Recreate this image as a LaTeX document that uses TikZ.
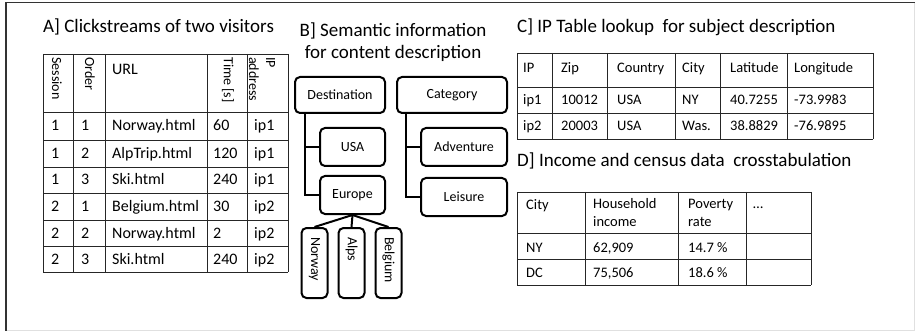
\documentclass[tikz,border=0pt]{standalone}
\usepackage{fontspec}
\setmainfont{Carlito}
\usetikzlibrary{positioning}

\begin{document}
\begin{tikzpicture}[
  x=1pt,y=-1pt,
  title/.style={inner sep=0pt,font=\fontsize{19}{22}\selectfont},
  cell/.style={anchor=base west,inner sep=0pt,font=\fontsize{14.5}{18}\selectfont},
  bigcell/.style={cell,font=\fontsize{16}{19}\selectfont},
  headrot/.style={anchor=west,inner sep=0pt,rotate=-90,align=left,
    font=\fontsize{14}{17}\selectfont},
  grid/.style={draw=black!85,line width=0.9pt},
  tbox/.style={draw,line width=2pt,rounded corners=5pt,inner sep=0pt,
    minimum height=38pt,font=\fontsize{14}{17}\selectfont},
  vbox/.style={tbox,rotate=-90,minimum height=26pt,text width=52pt,
    align=left,inner xsep=9pt},
  tree/.style={draw,line width=2pt}
]
\useasboundingbox (0,0) rectangle (915,331);
% frame
\draw[black!12,line width=1pt] (6,330) -- (914,330) -- (914,2.5);
\draw[black!80,line width=1.3pt] (6,331) -- (6,2.5) -- (915,2.5);

% A] clickstreams
\node[title,anchor=base west] (ttla) at (43,33) {A] Clickstreams of two visitors};
\foreach \x in {43,73,105,207,247,288} \draw[grid] (\x,54) -- (\x,272);
\foreach \y in {54,112,140,167,193,220,246,272} \draw[grid] (43,\y) -- (288,\y);
\node[headrot] (hsess) at (57,57) {Session};
\node[headrot] (hord) at (90,57) {Order};
\node[bigcell] (hurl) at (112,75) {URL};
\node[headrot] (htime) at (228,57) {Time [s]};
\node[headrot] (hip) at (262,57) {IP\\address};
\foreach \y/\s/\o/\u/\t/\i [count=\r] in {131/1/1/Norway.html/60/ip1,
    158.5/1/2/AlpTrip.html/120/ip1, 185/1/3/Ski.html/240/ip1,
    211.5/2/1/Belgium.html/30/ip2, 238/2/2/Norway.html/2/ip2,
    264/2/3/Ski.html/240/ip2} {
  \node[bigcell] (a-\r-1) at (51,\y) {\s};
  \node[bigcell] (a-\r-2) at (81,\y) {\o};
  \node[bigcell] (a-\r-3) at (112,\y) {\u};
  \node[bigcell] (a-\r-4) at (213,\y) {\t};
  \node[bigcell] (a-\r-5) at (254,\y) {\i};
}

% B] semantic information
\node[title,align=center,anchor=north] (ttlb) at (393,23)
  {B] Semantic information\\for content description};
\node[tbox,minimum width=90pt,minimum height=36pt] (dest) at (340,95) {Destination};
\node[tbox,minimum width=110pt,minimum height=36pt,right=10pt of dest] (cat) {Category};
\node[tbox,minimum width=65pt,below left=13pt and 0pt of dest.south east] (usa) {USA};
\node[tbox,minimum width=65pt,below=8pt of usa] (europe) {Europe};
\node[tbox,minimum width=86pt,below left=13pt and 0pt of cat.south east] (adv) {Adventure};
\node[tbox,minimum width=86pt,below=10pt of adv] (leis) {Leisure};
\node[vbox] (nor) at (314.5,263) {Norway};
\node[vbox] (alps) at (351.5,263) {Alps};
\node[vbox] (belg) at (388.5,263) {Belgium};

\coordinate (dtrunk) at ([xshift=11pt]dest.south west);
\coordinate (ctrunk) at ([xshift=10pt]cat.south west);
\draw[tree] (dtrunk) |- (usa.west);
\draw[tree] (dtrunk) |- (europe.west);
\draw[tree] (ctrunk) |- (adv.west);
\draw[tree] (ctrunk) |- (leis.west);
\draw[tree] (europe.south) -- (nor.west);
\draw[tree] (europe.south) -- (alps.west);
\draw[tree] (europe.south) -- (belg.west);

% C] IP table
\node[title,anchor=base west] (ttlc) at (517,33) {C] IP Table lookup\ \ for subject description};
\foreach \x in {517,552,607,675,720,787,873} \draw[grid] (\x,53) -- (\x,139);
\foreach \y in {53,87,113,139} \draw[grid] (517,\y) -- (873,\y);
\foreach \y/\a/\b/\c/\d/\e/\f [count=\r] in {73/IP/Zip/Country/City/Latitude/Longitude,
    105/ip1/10012/USA/NY/40.7255/-73.9983, 130.5/ip2/20003/USA/Was./38.8829/-76.9895} {
  \node[cell] (c-\r-1) at (523,\y) {\a};
  \node[cell] (c-\r-2) at (561,\y) {\b};
  \node[cell] (c-\r-3) at (617,\y) {\c};
  \node[cell] (c-\r-4) at (682,\y) {\d};
  \node[cell] (c-\r-5) at (730,\y) {\e};
  \node[cell] (c-\r-6) at (794,\y) {\f};
}

% D] income and census
\node[title,anchor=base west] (ttld) at (517,167) {D] Income and census data\ \ crosstabulation};
\foreach \x in {517,585,678,746,811} \draw[grid] (\x,192) -- (\x,285);
\foreach \y in {192,233,259,285} \draw[grid] (517,\y) -- (811,\y);
\node[cell] (hcity) at (526,209) {City};
\node[cell,align=left,anchor=north west] (hinc) at (593,198.5) {Household\\income};
\node[cell,align=left,anchor=north west] (hpov) at (688,198.5) {Poverty\\rate};
\node[cell] (hmore) at (753,208) {\textellipsis};
\foreach \y/\a/\b/\c [count=\r] in {252/NY/{62,909}/{14.7~\%}, 277/DC/{75,506}/{18.6~\%}} {
  \node[cell] (d-\r-1) at (526,\y) {\a};
  \node[cell] (d-\r-2) at (593,\y) {\b};
  \node[cell] (d-\r-3) at (688,\y) {\c};
}
\end{tikzpicture}
\end{document}
